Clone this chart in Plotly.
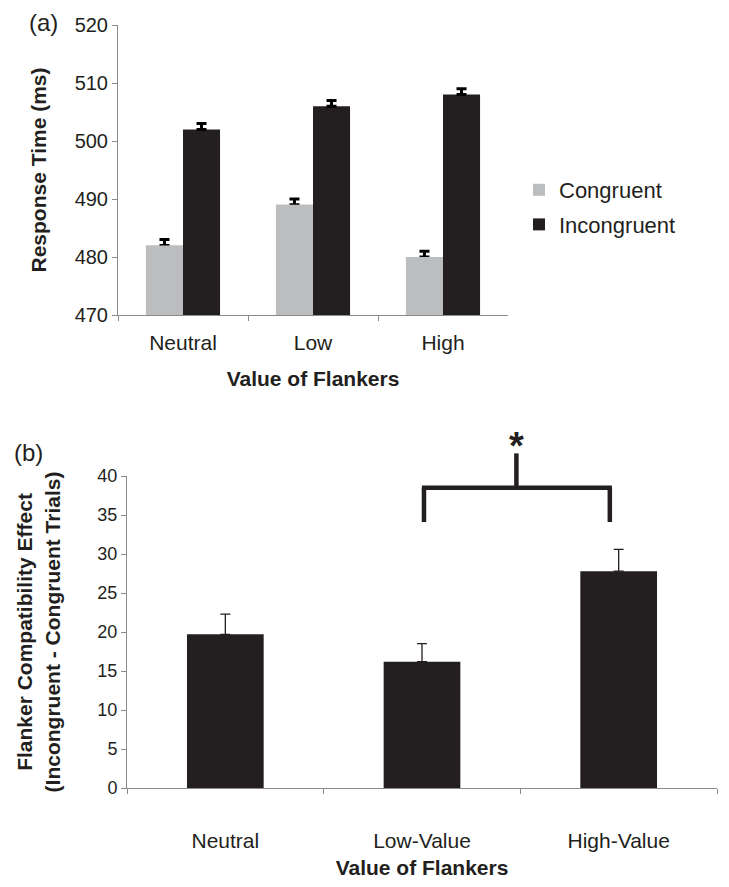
import plotly.graph_objects as go

# ---------------- data ----------------
cats_a = ["Neutral", "Low", "High"]
congruent = [482, 489, 480]
incongruent = [502, 506, 508]
congruent_err = [1, 1, 1]
incongruent_err = [1, 1, 1]

cats_b = ["Neutral", "Low-Value", "High-Value"]
effect = [19.7, 16.2, 27.8]
effect_err = [2.6, 2.3, 2.8]

ya_ticks = [470, 480, 490, 500, 510, 520]
yb_ticks = [0, 5, 10, 15, 20, 25, 30, 35, 40]

# significance bracket (data units of panel b)
bracket_left, bracket_right, bracket_mid = 1.01, 1.955, 1.48
bracket_top, bracket_foot, stem_top, star_y = 38.5, 34.1, 42.9, 40.9

# page: 729x887 window, body margin 8px
OFF = 8
W, H = 729 - 2 * OFF, 887 - 2 * OFF
def px(x):
    return (x - OFF) / W
def py(y):
    return 1 - (y - OFF) / H

GRAY_LIGHT = "#bcbdbf"
DARK = "#231f20"
AXIS = "#8a8a8a"
FONT = "Arial, Liberation Sans, sans-serif"

BW = 0.285  # bar width (category units) for panel a

fig = go.Figure()
err_a = dict(type="data", symmetric=False, color="black", thickness=3, width=5)
fig.add_trace(go.Bar(
    x=cats_a, y=congruent, name="Congruent", marker_color=GRAY_LIGHT, marker_line_width=0,
    width=BW, offset=-BW, legendgroup="c",
    error_y=dict(array=congruent_err, arrayminus=[0]*3, **err_a),
    xaxis="x", yaxis="y"))
# same bars again on top, so that only the upper part of the error bar shows
fig.add_trace(go.Bar(
    x=cats_a, y=congruent, name="Congruent", marker_color=GRAY_LIGHT, marker_line_width=0,
    width=BW, offset=-BW, legendgroup="c", showlegend=False, hoverinfo="skip",
    xaxis="x", yaxis="y"))
fig.add_trace(go.Bar(
    x=cats_a, y=incongruent, name="Incongruent", marker_color=DARK, marker_line_width=0,
    width=BW, offset=0, legendgroup="i",
    error_y=dict(array=incongruent_err, arrayminus=[0]*3, **err_a),
    xaxis="x", yaxis="y"))
fig.add_trace(go.Bar(
    x=cats_b, y=effect, showlegend=False, marker_color=DARK, marker_line_width=0,
    width=0.39,
    error_y=dict(type="data", array=effect_err, arrayminus=[0]*3, symmetric=False,
                 color=DARK, thickness=1.3, width=5),
    xaxis="x2", yaxis="y2"))

Y2MIN, Y2MAX = yb_ticks[0], yb_ticks[-1]
def yd(v):
    return (v - Y2MIN) / (Y2MAX - Y2MIN)
def xd(v):
    return (v + 0.5) / len(cats_b)

line = dict(color=DARK, width=4.5)
shp = dict(type="line", xref="x2 domain", yref="y2 domain", line=line)
fig.add_shape(**shp, x0=xd(bracket_left), x1=xd(bracket_left), y0=yd(bracket_foot), y1=yd(bracket_top))
fig.add_shape(**shp, x0=xd(bracket_right), x1=xd(bracket_right), y0=yd(bracket_foot), y1=yd(bracket_top))
fig.add_shape(**shp, x0=xd(bracket_left) - 0.0035, x1=xd(bracket_right) + 0.0035, y0=yd(bracket_top), y1=yd(bracket_top))
fig.add_shape(**shp, x0=xd(bracket_mid), x1=xd(bracket_mid), y0=yd(bracket_top), y1=yd(stem_top))

fig.add_annotation(x=xd(bracket_mid), y=yd(star_y), xref="x2 domain", yref="y2 domain",
                   text="<b>*</b>", showarrow=False, xanchor="center", yanchor="bottom",
                   font=dict(family=FONT, size=38, color=DARK))
fig.add_annotation(x=px(43), y=py(22), xref="paper", yref="paper", text="(a)",
                   showarrow=False, xanchor="center", yanchor="middle",
                   font=dict(family=FONT, size=24, color=DARK))
fig.add_annotation(x=px(28), y=py(452), xref="paper", yref="paper", text="(b)",
                   showarrow=False, xanchor="center", yanchor="middle",
                   font=dict(family=FONT, size=24, color=DARK))

axis_common = dict(showline=True, linecolor=AXIS, linewidth=1, ticks="outside",
                   tickcolor=AXIS, ticklen=5, showgrid=False, zeroline=False,
                   automargin=False)

fig.update_layout(
    width=W, height=H, margin=dict(l=0, r=0, t=0, b=0),
    paper_bgcolor="white", plot_bgcolor="white",
    barmode="overlay",
    font=dict(family=FONT, color=DARK),
    xaxis=dict(domain=[px(118), px(508)], anchor="y", tickson="boundaries",
               tickfont=dict(size=21, family=FONT, color=DARK), ticklabelstandoff=9,
               title=dict(text="<b>Value of Flankers</b>", font=dict(size=21, family=FONT, color=DARK), standoff=18),
               **axis_common),
    yaxis=dict(domain=[py(315), py(25)], anchor="x", range=[ya_ticks[0], ya_ticks[-1]],
               tickvals=ya_ticks, tickfont=dict(size=20, family=FONT, color=DARK),
               title=dict(text="<b>Response Time (ms)</b>", font=dict(size=21, family=FONT, color=DARK), standoff=22),
               **axis_common),
    xaxis2=dict(domain=[px(127), px(717)], anchor="y2", tickson="boundaries",
                tickfont=dict(size=21, family=FONT, color=DARK), ticklabelstandoff=34,
                title=dict(text="<b>Value of Flankers</b>", font=dict(size=21, family=FONT, color=DARK), standoff=21),
                **axis_common),
    yaxis2=dict(domain=[py(788), py(476)], anchor="x2", range=[Y2MIN, Y2MAX],
                tickvals=yb_ticks, tickfont=dict(size=18, family=FONT, color=DARK),
                title=dict(text="<b>Flanker Compatibility Effect<br>(Incongruent - Congruent Trials)</b>",
                           font=dict(size=21, family=FONT, color=DARK), standoff=31),
                **axis_common),
    legend=dict(x=px(519), y=py(169), xanchor="left", yanchor="top",
                font=dict(size=22, family=FONT, color=DARK), tracegroupgap=3,
                traceorder="grouped", bgcolor="rgba(0,0,0,0)"),
    showlegend=True,
)

fig.write_html("out.html")
